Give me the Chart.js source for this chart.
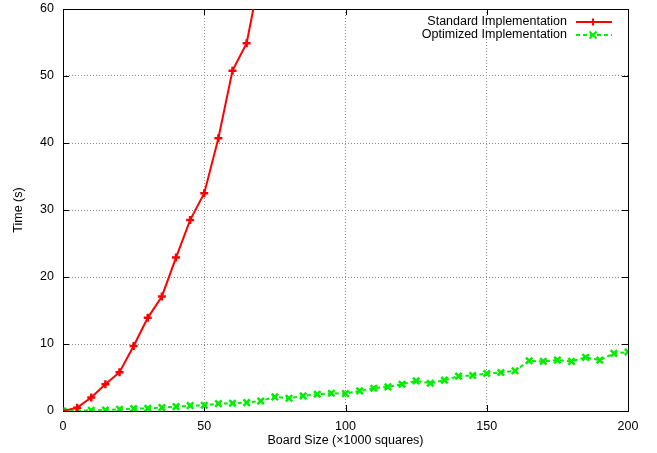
<!DOCTYPE html>
<html lang="en">
<head>
<meta charset="UTF-8">
<title>Board Size vs Time</title>
<script src="https://cdn.jsdelivr.net/npm/chart.js"></script>
<style>
  body, html { margin: 0; padding: 0; background: #fff; }
  #wrap { width: 657px; height: 453px; }
</style>
</head>
<body>
<div id="wrap"><canvas id="chart"></canvas></div>
<script>
// board size (x1000 squares)
const standardSizes = [0, 5, 10, 15, 20, 25, 30, 35, 40, 45, 50, 55, 60, 65, 70];
const standardTimes = [0, 0.5, 2.0, 4.0, 5.8, 9.7, 13.9, 17.1, 22.9, 28.5, 32.5, 40.7, 50.8, 54.9, 65.6];

const optimizedSizes = [0, 5, 10, 15, 20, 25, 30, 35, 40, 45, 50, 55, 60, 65, 70, 75, 80, 85, 90, 95,
  100, 105, 110, 115, 120, 125, 130, 135, 140, 145, 150, 155, 160, 165, 170, 175, 180, 185, 190, 195, 200];
const optimizedTimes = [0, 0.05, 0.1, 0.15, 0.25, 0.35, 0.4, 0.5, 0.65, 0.8, 0.85, 1.1, 1.15, 1.25, 1.5, 2.1, 1.9, 2.25, 2.5, 2.65,
  2.6, 3.0, 3.4, 3.6, 4.0, 4.5, 4.15, 4.6, 5.2, 5.3, 5.6, 5.75, 6.0, 7.5, 7.4, 7.6, 7.4, 8.0, 7.6, 8.6, 8.8];

const xTicks = [0, 50, 100, 150, 200];
const yTicks = [0, 10, 20, 30, 40, 50, 60];

const FONT = "'Liberation Sans', Arial, sans-serif";
const FSIZE = 12.5;

function toPoints(xs, ys) {
  return xs.map((x, i) => ({ x: x, y: ys[i] }));
}

// gnuplot style frame with inward ticks
const framePlugin = {
  id: 'frame',
  beforeDatasetsDraw(chart) {
    const { ctx, chartArea: a, scales } = chart;
    ctx.save();
    ctx.strokeStyle = '#000';
    ctx.lineWidth = 1;
    ctx.beginPath();
    xTicks.forEach(v => {
      const px = Math.round(scales.x.getPixelForValue(v)) + 0.5;
      ctx.moveTo(px, a.bottom); ctx.lineTo(px, a.bottom - 6);
      ctx.moveTo(px, a.top); ctx.lineTo(px, a.top + 6);
    });
    yTicks.forEach(v => {
      const py = Math.round(scales.y.getPixelForValue(v)) + 0.5;
      ctx.moveTo(a.left, py); ctx.lineTo(a.left + 6, py);
      ctx.moveTo(a.right, py); ctx.lineTo(a.right - 6, py);
    });
    ctx.stroke();
    ctx.strokeRect(Math.round(a.left) + 0.5, Math.round(a.top) + 0.5,
      Math.round(a.right - a.left), Math.round(a.bottom - a.top));
    ctx.restore();
  }
};

// legend inside the top-right corner: text first, sample line after
const keyPlugin = {
  id: 'key',
  afterDraw(chart) {
    const { ctx, chartArea: a } = chart;
    ctx.save();
    ctx.font = FSIZE + 'px ' + FONT;
    ctx.textAlign = 'right';
    ctx.textBaseline = 'middle';
    chart.data.datasets.forEach((ds, i) => {
      const y = a.top + 13 + i * 13;
      ctx.fillStyle = '#000';
      ctx.fillText(ds.label, a.right - 61, y);
      ctx.strokeStyle = ds.borderColor;
      ctx.lineWidth = ds.borderWidth;
      ctx.setLineDash(ds.borderDash || []);
      ctx.beginPath();
      ctx.moveTo(a.right - 52, y);
      ctx.lineTo(a.right - 16, y);
      ctx.stroke();
      ctx.setLineDash([]);
      const mx = a.right - 35, r = 3.5;
      ctx.lineWidth = 2;
      ctx.beginPath();
      if (ds.pointStyle === 'cross') {
        ctx.moveTo(mx - r, y); ctx.lineTo(mx + r, y);
        ctx.moveTo(mx, y - r); ctx.lineTo(mx, y + r);
      } else {
        ctx.moveTo(mx - r, y - r); ctx.lineTo(mx + r, y + r);
        ctx.moveTo(mx - r, y + r); ctx.lineTo(mx + r, y - r);
      }
      ctx.stroke();
    });
    ctx.restore();
  }
};

new Chart(document.getElementById('chart'), {
  type: 'line',
  data: {
    datasets: [
      {
        label: 'Standard Implementation',
        data: toPoints(standardSizes, standardTimes),
        borderColor: '#ff0000',
        backgroundColor: '#ff0000',
        borderWidth: 2,
        pointStyle: 'cross',
        pointRadius: 4,
        pointBorderWidth: 2.5,
        pointHoverRadius: 4,
        tension: 0
      },
      {
        label: 'Optimized Implementation',
        data: toPoints(optimizedSizes, optimizedTimes),
        borderColor: '#00ee00',
        backgroundColor: '#00ee00',
        borderWidth: 2,
        borderDash: [4, 3],
        pointStyle: 'crossRot',
        pointRadius: 4.5,
        pointBorderWidth: 2.5,
        pointHoverRadius: 4.5,
        tension: 0
      }
    ]
  },
  options: {
    responsive: true,
    maintainAspectRatio: false,
    animation: false,
    events: [],
    layout: { padding: { top: 9, right: 29, left: 0, bottom: 0 } },
    plugins: {
      legend: { display: false },
      tooltip: { enabled: false }
    },
    scales: {
      x: {
        type: 'linear',
        min: 0,
        max: 200,
        afterFit(s) { s.height = 42; s.paddingLeft = 0; s.paddingRight = 0; },
        afterBuildTicks(s) { s.ticks = xTicks.map(v => ({ value: v })); },
        grid: { color: '#8a8a8a', drawTicks: false },
        border: { display: false, dash: [1, 2] },
        ticks: { color: '#000', padding: 8, font: { family: FONT, size: FSIZE } },
        title: { display: true, text: 'Board Size (×1000 squares)', color: '#000', padding: { top: 0, bottom: 5 }, font: { family: FONT, size: FSIZE } }
      },
      y: {
        type: 'linear',
        min: 0,
        max: 60,
        afterFit(s) { s.width = 63; s.paddingTop = 0; s.paddingBottom = 0; },
        afterBuildTicks(s) { s.ticks = yTicks.map(v => ({ value: v })); },
        grid: { color: '#8a8a8a', drawTicks: false },
        border: { display: false, dash: [1, 2] },
        ticks: { color: '#000', padding: 9, font: { family: FONT, size: FSIZE } },
        title: { display: true, text: 'Time (s)', color: '#000', padding: { top: 11, bottom: 0 }, font: { family: FONT, size: FSIZE } }
      }
    }
  },
  plugins: [framePlugin, keyPlugin]
});
</script>
</body>
</html>
